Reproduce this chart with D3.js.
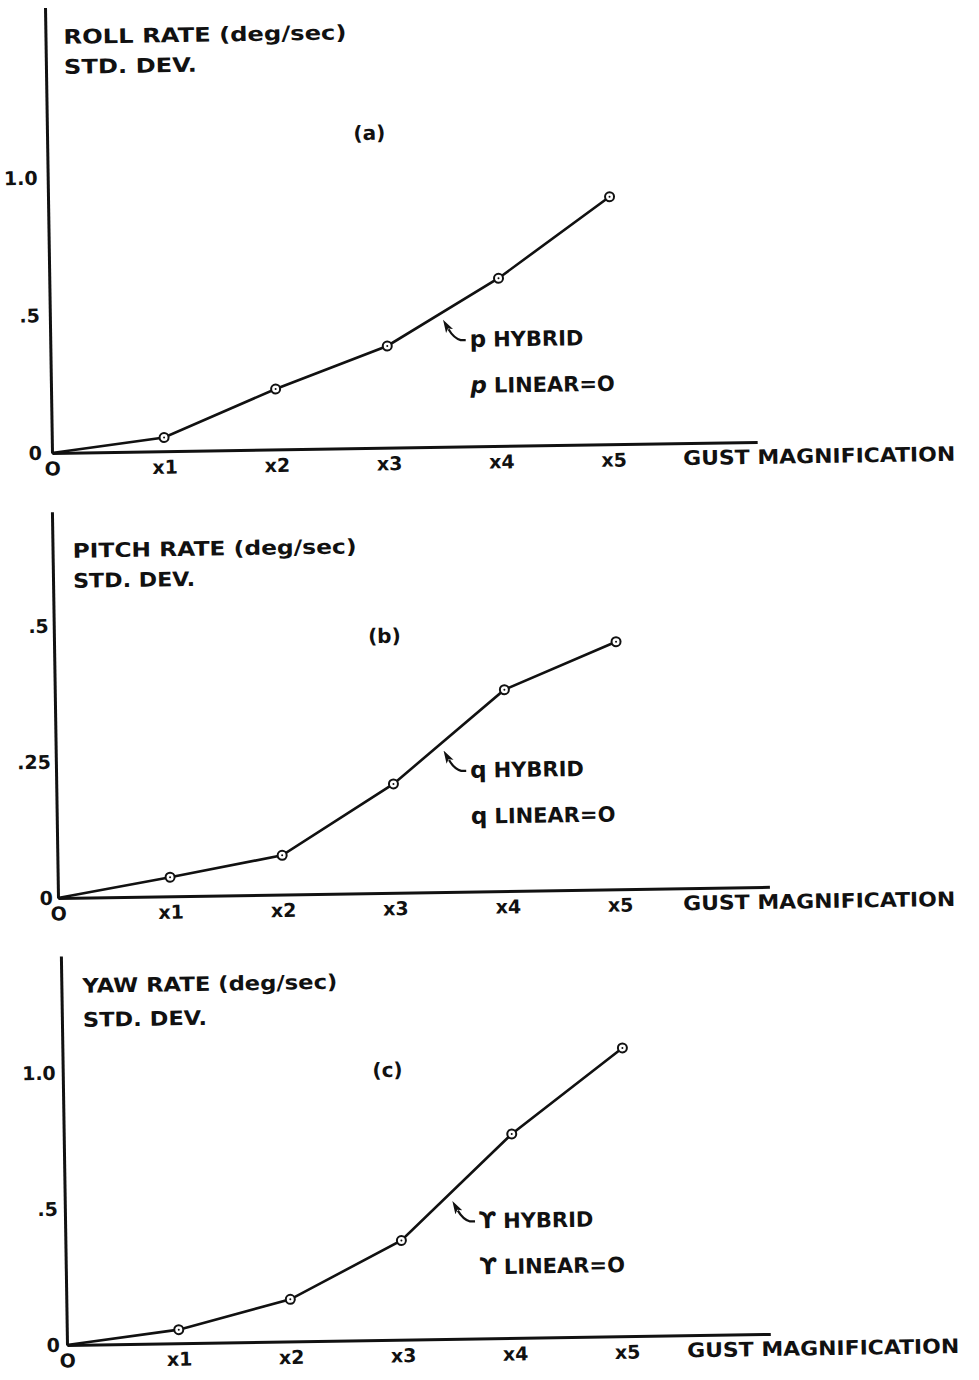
<!DOCTYPE html>
<html>
<head>
<meta charset="utf-8">
<script src="https://cdn.jsdelivr.net/npm/d3@7"></script>
<style>
  body { margin: 0; background: #fff; }
  text { font-family: "DejaVu Sans", sans-serif; font-weight: bold; fill: #111; }
</style>
</head>
<body>
<script>
// data
var gustX = [0, 1, 2, 3, 4, 5];
var xTickLabels = ["O", "x1", "x2", "x3", "x4", "x5"];

var rollSD = [0, 0.05, 0.22, 0.37, 0.61, 0.90];
var pitchSD = [0, 0.035, 0.072, 0.20, 0.37, 0.455];
var yawSD = [0, 0.05, 0.155, 0.365, 0.75, 1.06];

var rollTicks = [0, 0.5, 1.0], rollTickLabels = ["0", ".5", "1.0"];
var pitchTicks = [0, 0.25, 0.5], pitchTickLabels = ["0", ".25", ".5"];
var yawTicks = [0, 0.5, 1.0], yawTickLabels = ["0", ".5", "1.0"];

var titles = ["ROLL  RATE (deg/sec)", "PITCH  RATE (deg/sec)", "YAW  RATE (deg/sec)"];
var letters = ["(a)", "(b)", "(c)"];
var symbols = ["p", "q", "\u03D2"];

var W = 979, H = 1380;
var skew = -0.9; // the scan is turned a little

var svg = d3.select("body").append("svg")
    .attr("width", W)
    .attr("height", H);

// arrowhead drawn backwards from the start of the hook path
svg.append("defs").append("marker")
    .attr("id", "arrowhead")
    .attr("viewBox", "0 0 13 9")
    .attr("refX", 2).attr("refY", 4.5)
    .attr("markerWidth", 13).attr("markerHeight", 9)
    .attr("markerUnits", "userSpaceOnUse")
    .attr("orient", "auto-start-reverse")
  .append("path")
    .attr("d", "M13,4.5 L0,0.5 L3,4.5 L0,8.5 Z")
    .attr("fill", "#111");

// layout of each panel (pixels)
var panels = [
  {origin: [52, 453], xUnit: 112.3, yUnit: 275, yMax: 1.62, xMax: 6.28, pad: 10,
   values: rollSD, ticks: rollTicks, tickLabels: rollTickLabels,
   title: [18, -409, 283], std: [18, -379, 133], letter: [2.87, -308], gust: 631,
   annX: 3.45, sym2: "italic"},
  {origin: [58, 898], xUnit: 112.4, yUnit: 544, yMax: 0.71, xMax: 6.33, pad: 5,
   values: pitchSD, ticks: pitchTicks, tickLabels: pitchTickLabels,
   title: [20, -340, 284], std: [20, -310, 122], letter: [2.94, -250], gust: 625,
   annX: 3.4, sym2: "normal"},
  {origin: [67, 1345], xUnit: 112, yUnit: 272, yMax: 1.43, xMax: 6.28, pad: 7,
   values: yawSD, ticks: yawTicks, tickLabels: yawTickLabels,
   title: [21, -352, 255], std: [21, -318, 124], letter: [2.9, -263], gust: 620,
   annX: 3.41, sym2: "normal"}
];

panels.forEach(function(p, i) {
  var g = svg.append("g")
      .attr("transform", "translate(" + p.origin[0] + "," + p.origin[1] + ") rotate(" + skew + ")");

  var x = d3.scaleLinear()
      .domain([0, p.xMax])
      .range([0, p.xMax * p.xUnit]);

  var y = d3.scaleLinear()
      .domain([0, p.yMax])
      .range([0, -p.yMax * p.yUnit]);

  // Y axis
  var yAxis = g.append("g")
      .call(d3.axisLeft(y)
        .tickValues(p.ticks)
        .tickFormat(function(d, k) { return p.tickLabels[k]; })
        .tickSize(0)
        .tickPadding(p.pad));
  yAxis.select(".domain").attr("stroke", "#111").attr("stroke-width", 3);
  yAxis.selectAll("text")
      .style("font-family", "DejaVu Sans").style("font-weight", "bold")
      .attr("font-size", 19).attr("fill", "#111");

  // X axis
  var xAxis = g.append("g")
      .call(d3.axisBottom(x)
        .tickValues(gustX)
        .tickFormat(function(d, k) { return xTickLabels[k]; })
        .tickSize(0)
        .tickPadding(9));
  xAxis.select(".domain").attr("stroke", "#111").attr("stroke-width", 3);
  xAxis.selectAll("text")
      .style("font-family", "DejaVu Sans").style("font-weight", "bold")
      .attr("font-size", 19).attr("fill", "#111");

  g.append("text")
      .attr("x", p.gust)
      .attr("y", 22)
      .attr("font-size", 20)
      .attr("textLength", 272)
      .attr("lengthAdjust", "spacingAndGlyphs")
      .text("GUST  MAGNIFICATION");

  // Labels
  g.append("text")
      .attr("x", p.title[0]).attr("y", p.title[1])
      .attr("font-size", 20)
      .attr("textLength", p.title[2])
      .attr("lengthAdjust", "spacingAndGlyphs")
      .text(titles[i]);
  g.append("text")
      .attr("x", p.std[0]).attr("y", p.std[1])
      .attr("font-size", 20)
      .attr("textLength", p.std[2])
      .attr("lengthAdjust", "spacingAndGlyphs")
      .text("STD.  DEV.");
  g.append("text")
      .attr("x", x(p.letter[0])).attr("y", p.letter[1])
      .attr("text-anchor", "middle")
      .attr("font-size", 20)
      .text(letters[i]);

  // the curve
  var pts = gustX.map(function(d, k) { return {x: d, v: p.values[k]}; });
  g.append("path")
      .datum(pts)
      .attr("fill", "none")
      .attr("stroke", "#111")
      .attr("stroke-width", 2.6)
      .attr("d", d3.line().x(function(d) { return x(d.x); }).y(function(d) { return y(d.v); }));

  var dots = g.append("g")
      .selectAll("circle")
      .data(pts.slice(1))
      .enter();
  dots.append("circle")
      .attr("cx", function(d) { return x(d.x); })
      .attr("cy", function(d) { return y(d.v); })
      .attr("r", 4.5)
      .attr("fill", "#fff")
      .attr("stroke", "#111")
      .attr("stroke-width", 2);
  dots.append("circle")
      .attr("cx", function(d) { return x(d.x); })
      .attr("cy", function(d) { return y(d.v); })
      .attr("r", 1)
      .attr("fill", "#111");

  // arrow + legend text
  var k0 = Math.floor(p.annX);
  var va = p.values[k0] + (p.values[k0 + 1] - p.values[k0]) * (p.annX - k0);
  var sx = x(p.annX) + 11, sy = y(va) + 14;
  g.append("path")
      .attr("d", "M" + sx + "," + sy + " Q" + (sx + 5) + "," + (sy + 9) + " " + (sx + 12) + "," + (sy + 11) + " L" + (sx + 17) + "," + (sy + 11))
      .attr("fill", "none")
      .attr("stroke", "#111")
      .attr("stroke-width", 2.2)
      .attr("marker-start", "url(#arrowhead)");

  var t1 = g.append("text")
      .attr("x", sx + 21).attr("y", sy + 18)
      .attr("font-size", 21);
  t1.append("tspan").attr("font-size", 23).text(symbols[i]);
  t1.append("tspan").attr("dx", 7).text("HYBRID");

  var t2 = g.append("text")
      .attr("x", sx + 21).attr("y", sy + 64)
      .attr("font-size", 21);
  t2.append("tspan").attr("font-size", 23).attr("font-style", p.sym2).text(symbols[i]);
  t2.append("tspan").attr("dx", 7).text("LINEAR=O");
});
</script>
</body>
</html>
